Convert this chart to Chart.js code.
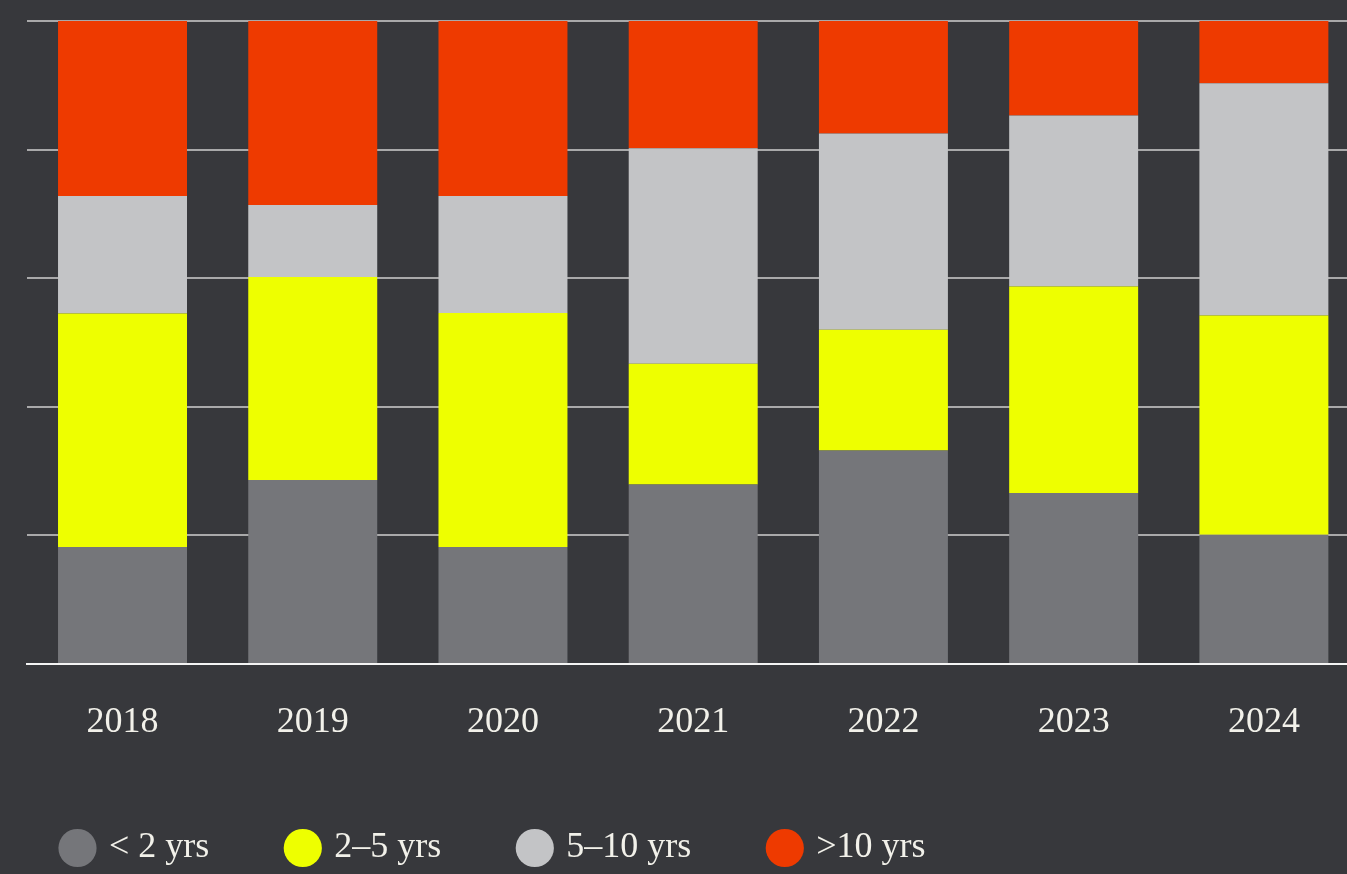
<!DOCTYPE html>
<html>
<head>
<meta charset="utf-8">
<script src="https://cdn.jsdelivr.net/npm/chart.js@4/dist/chart.umd.min.js"></script>
<style>
  html, body { margin: 0; padding: 0; background: #37383c; overflow: hidden; width: 1347px; height: 874px; }
  #wrap { position: absolute; left: -16px; top: 0; width: 1375px; height: 876px; }
</style>
</head>
<body>
<div id="wrap"><canvas id="chart"></canvas></div>
<script>
// Share of holdings by tenure, per year (percent of total)
const years = ['2018', '2019', '2020', '2021', '2022', '2023', '2024'];
const seriesNames = ['< 2 yrs', '2\u20135 yrs', '5\u201310 yrs', '>10 yrs'];
const under2 = [18.2, 28.6, 18.2, 27.9, 33.2, 26.6, 20.1];
const from2to5 = [36.3, 31.6, 36.4, 18.8, 18.8, 32.1, 34.1];
const from5to10 = [18.3, 11.2, 18.2, 33.5, 30.5, 26.6, 36.1];
const over10 = [27.2, 28.6, 27.2, 19.8, 17.5, 14.7, 9.7];
const yTicks = [0, 20, 40, 60, 80, 100];

const colors = ['#75767a', '#eeff00', '#c3c4c6', '#ee3a00'];
const textColor = '#f2f1ea';
const serif = 'Liberation Serif, DejaVu Serif, serif';

const seriesValues = [under2, from2to5, from5to10, over10];
const datasets = seriesValues.map((vals, i) => ({
  label: seriesNames[i],
  data: vals,
  backgroundColor: colors[i],
  borderWidth: 0,
  barPercentage: 0.678,
  categoryPercentage: 1
}));

new Chart(document.getElementById('chart'), {
  type: 'bar',
  data: { labels: years, datasets },
  options: {
    responsive: true,
    maintainAspectRatio: false,
    animation: false,
    layout: { padding: { top: 21, left: 0, right: 0, bottom: 0 } },
    plugins: {
      tooltip: { enabled: false },
      legend: {
        position: 'bottom',
        align: 'start',
        labels: {
          usePointStyle: true,
          pointStyle: 'circle',
          boxWidth: 27,
          boxHeight: 27,
          padding: 80,
          color: textColor,
          font: { family: serif, size: 36 }
        }
      }
    },
    scales: {
      x: {
        stacked: true,
        grid: { display: false, drawTicks: false },
        border: { display: true, color: '#f4f4f4', width: 2 },
        ticks: {
          color: textColor,
          padding: 37,
          font: { family: serif, size: 36 }
        },
        afterFit: (s) => { s.height = 86; }
      },
      y: {
        stacked: true,
        min: yTicks[0],
        max: yTicks[yTicks.length - 1],
        afterBuildTicks: (s) => { s.ticks = yTicks.map(v => ({ value: v })); },
        ticks: { display: false },
        grid: { color: '#a9a9aa', lineWidth: 2, drawTicks: false },
        border: { display: false },
        afterFit: (s) => { s.width = 43.4; }
      }
    }
  }
});
</script>
</body>
</html>
